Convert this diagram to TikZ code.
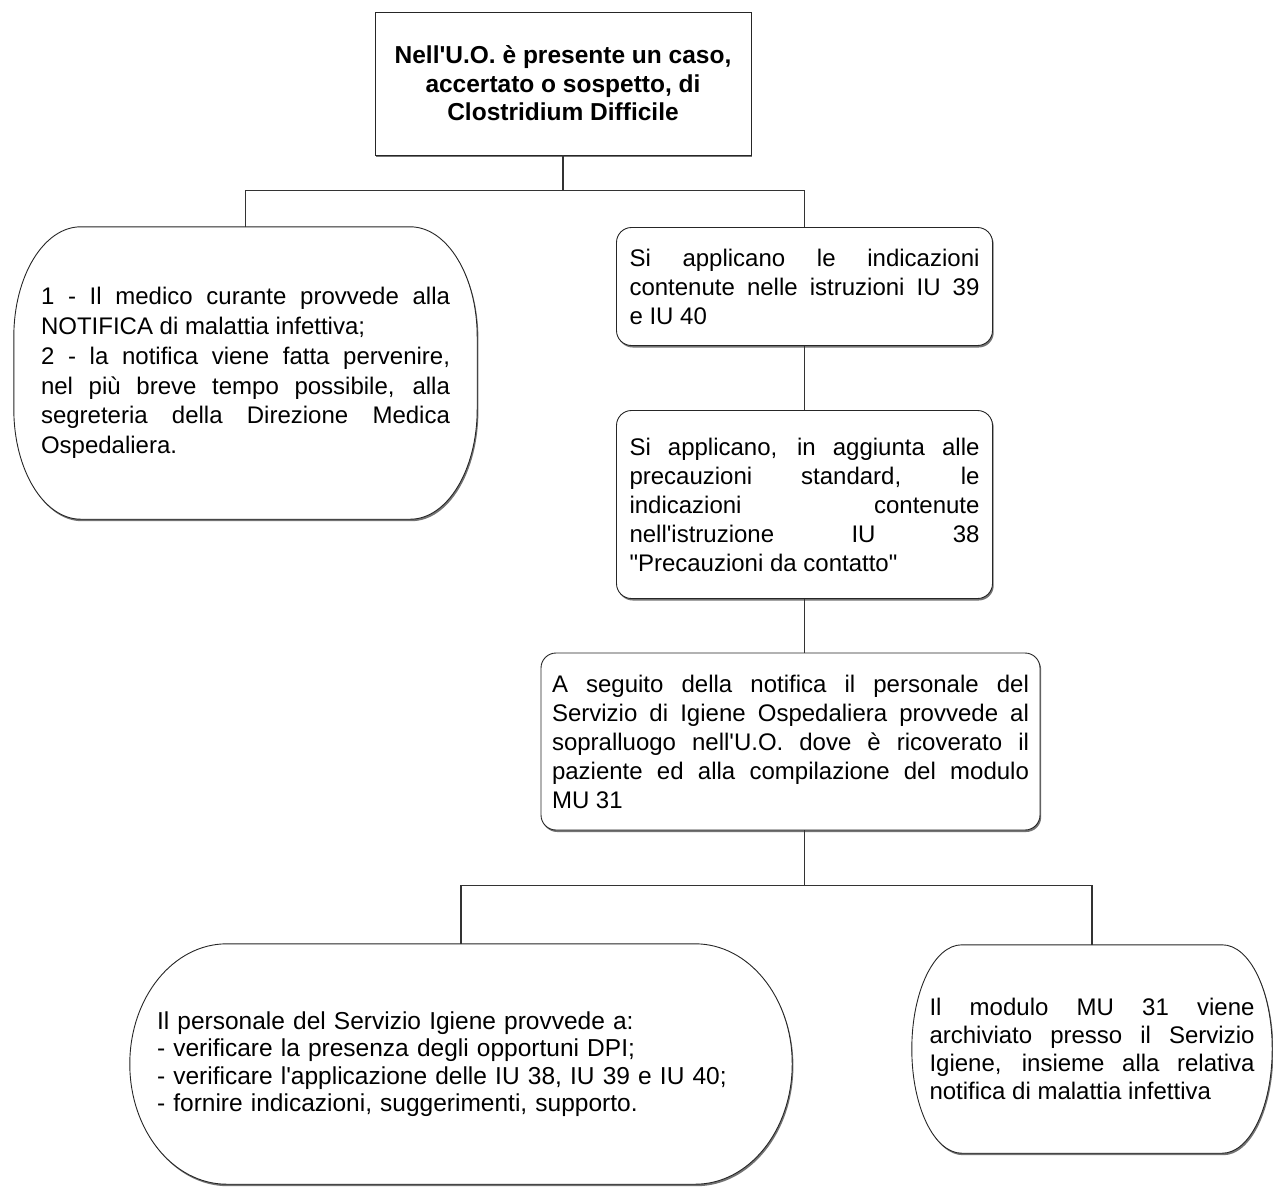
\documentclass[tikz,border=0pt]{standalone}
\usepackage{fontspec}
\setmainfont{Liberation Sans}
\usetikzlibrary{
  chains,
  positioning,
  scopes,
  shadows,
  backgrounds
}

\begin{document}
\begin{tikzpicture}[
      x=1pt, y=-1pt,
      box shadow/.style={
         drop shadow={shadow xshift=1.2pt, shadow yshift=-2pt, fill=black!55, opacity=1}
      },
      casebox/.style={
         rectangle,
         draw=black!85, line width=0.9pt,
         fill=white,
         minimum width=376pt, minimum height=143pt,
         inner sep=0pt,
         align=center,
         font=\bfseries\fontsize{24.5}{28.5}\selectfont,
         box shadow
      },
      stepbox/.style={
         rectangle, rounded corners=15pt,
         draw=black!85, line width=0.9pt,
         fill=white,
         inner sep=0pt,
         align=justify,
         font=\fontsize{24}{29}\selectfont,
         box shadow
      },
      ovalbox/.style={
         inner sep=0pt,
         align=justify,
         font=\fontsize{24}{29.8}\selectfont
      },
      oval line/.style={draw=black!85, line width=0.9pt, fill=white, box shadow},
      oval frame/.style n args={3}{
         insert path={([xshift=#2]#1.north west) -- ([xshift=-#2]#1.north east)
            arc[start angle=90, end angle=0, x radius=#2, y radius=#3]
            -- ([yshift=#3]#1.south east)
            arc[start angle=0, end angle=-90, x radius=#2, y radius=#3]
            -- ([xshift=#2]#1.south west)
            arc[start angle=270, end angle=180, x radius=#2, y radius=#3]
            -- ([yshift=-#3]#1.north west)
            arc[start angle=180, end angle=90, x radius=#2, y radius=#3] -- cycle}
      },
      point/.style={coordinate},
      every join/.style={draw=black!80, line width=1.3pt},
      hv path/.style={to path={-| (\tikztotarget)}},
    ]
    \useasboundingbox (0,0) rectangle (1273,1187);

    \node (top) [casebox] at (563,83.5)
       {Nell\textquotesingle U.O. è presente un caso,\\accertato o sospetto, di\\Clostridium Difficile};
    \node (notifica) [ovalbox, minimum width=463pt, minimum height=292pt, text width=409pt] at (245.5,373)
       {1 - Il medico curante provvede alla\linebreak
        NOTIFICA di malattia infettiva;\\
        2 - la notifica viene fatta pervenire,\linebreak
        nel più breve tempo possibile, alla\linebreak
        segreteria della Direzione Medica\linebreak
        Ospedaliera.};
    \node (istruzioni) [stepbox, minimum width=376pt, minimum height=118pt, text width=350pt] at (804.5,286.5)
       {Si applicano le indicazioni\linebreak
        contenute nelle istruzioni IU 39\linebreak
        e IU 40};
    \node (contatto) [stepbox, minimum width=376pt, minimum height=188pt, text width=350pt] at (804.5,504.5)
       {Si applicano, in aggiunta alle\linebreak
        precauzioni standard, le\linebreak
        indicazioni contenute\linebreak
        nell\textquotesingle istruzione IU 38\linebreak
        \textquotedbl Precauzioni da contatto\textquotedbl};
    \node (sopralluogo) [stepbox, minimum width=499pt, minimum height=177pt, text width=477pt] at (790.5,741.5)
       {A seguito della notifica il personale del\linebreak
        Servizio di Igiene Ospedaliera provvede al\linebreak
        sopralluogo nell\textquotesingle U.O. dove è ricoverato il\linebreak
        paziente ed alla compilazione del modulo\linebreak
        MU 31};
    \node (verifica) [ovalbox, align=left, font=\fontsize{24.5}{27.5}\selectfont,
                      minimum width=662pt, minimum height=240pt, text width=608pt] at (461,1064)
       {Il personale del Servizio Igiene provvede a:\\
        - verificare la presenza degli opportuni DPI;\\
        - verificare l\textquotesingle applicazione delle IU 38, IU 39 e IU 40;\\
        - fornire indicazioni, suggerimenti, supporto.};
    \node (archivio) [ovalbox, font=\fontsize{24}{28}\selectfont,
                      minimum width=360pt, minimum height=208pt, text width=325pt] at (1092,1049)
       {Il modulo MU 31 viene\linebreak
        archiviato presso il Servizio\linebreak
        Igiene, insieme alla relativa\linebreak
        notifica di malattia infettiva};

    \node (p1) [point, below=35pt of top.south] {};
    \node (c2) [point] at (contatto.south |- sopralluogo.north) {};
    \node (c3) [point] at (contatto.south |- sopralluogo.south) {};
    \node (p2) [point, below=55pt of c3] {};

  { [start chain]
       \chainin (top);
       \chainin (p1)    [join];
  }
  { [start chain]
       \chainin (p1);
       \chainin (notifica)    [join=by hv path];
  }
  { [start chain]
       \chainin (p1);
       \chainin (istruzioni)    [join=by hv path];
       \chainin (contatto)    [join];
       \chainin (c2)    [join];
  }
  { [start chain]
       \chainin (c3);
       \chainin (p2)    [join];
       \chainin (verifica)    [join=by hv path];
  }
  { [start chain]
       \chainin (p2);
       \chainin (archivio)    [join=by hv path];
  }

  \begin{pgfonlayer}{background}
    \path [oval line] [oval frame={notifica}{67pt}{110pt}];
    \path [oval line] [oval frame={verifica}{97pt}{120pt}];
    \path [oval line] [oval frame={archivio}{50pt}{104pt}];
  \end{pgfonlayer}
\end{tikzpicture}
\end{document}
